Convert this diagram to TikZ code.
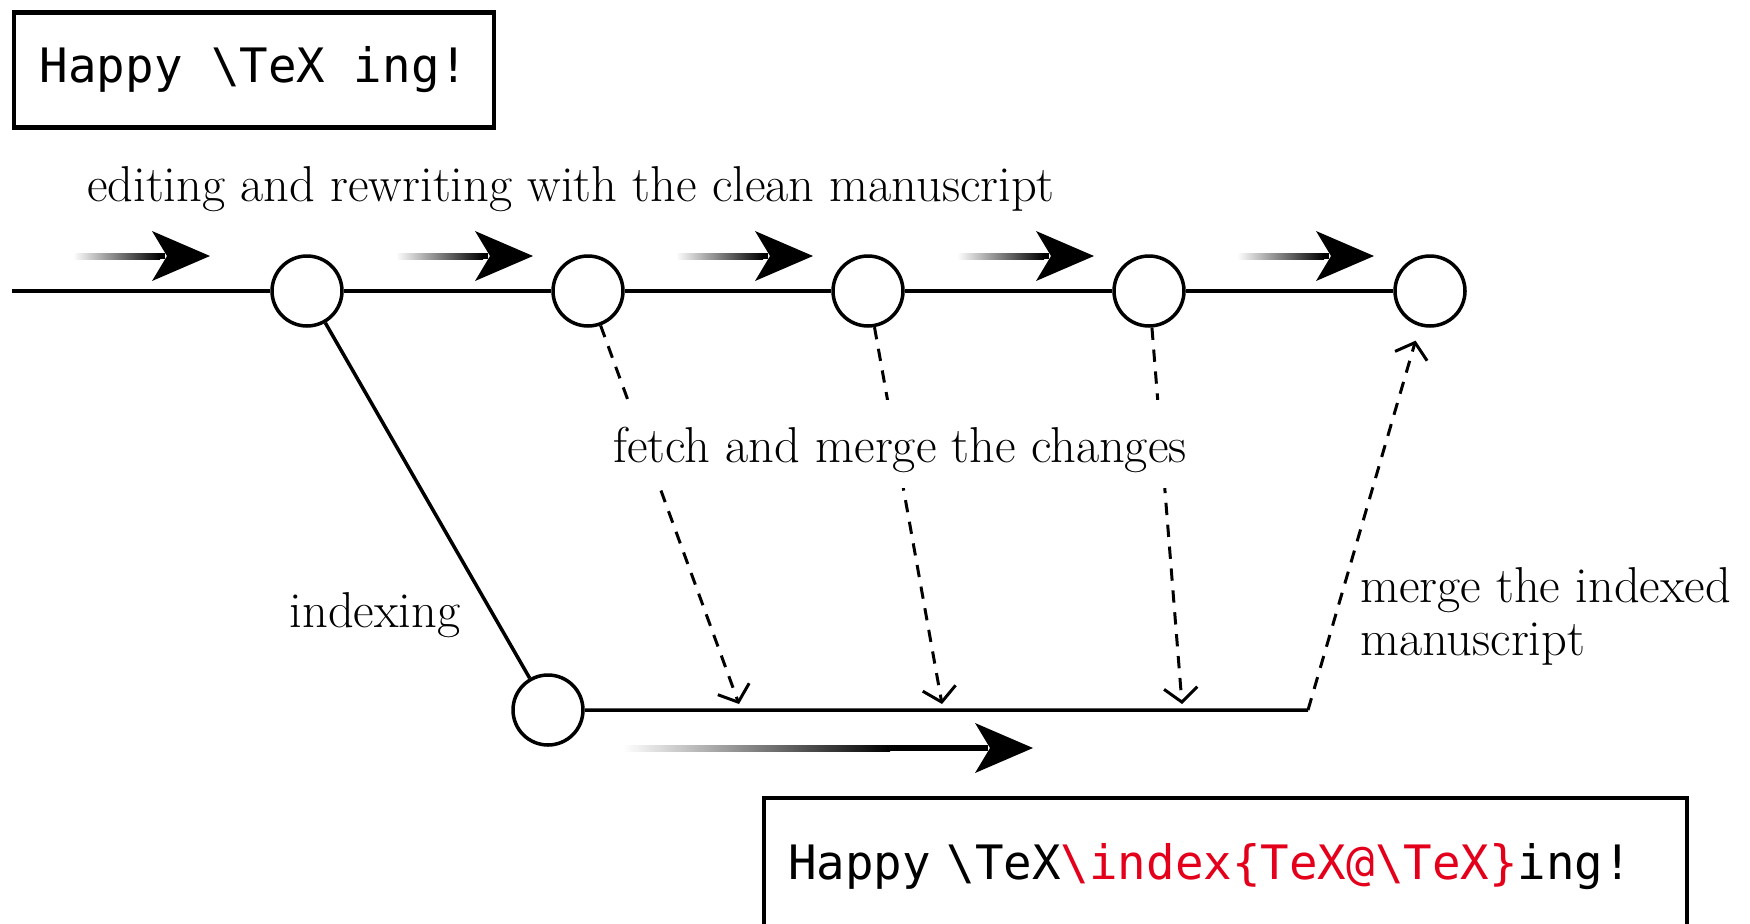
\documentclass[tikz,border=0pt]{standalone}
\usepackage{fontspec}
\setmonofont{DejaVu Sans Mono}
\usetikzlibrary{arrows.meta}
\definecolor{idxred}{RGB}{228,0,27}
\newcommand{\fadearrow}[4]{%
  \shade[left color=white,right color=black] (#1,#4-3) rectangle (#2,#4+3);
  \fill (#2,#4-3) rectangle (#3-45,#4+3);
  \fill (#3,#4) -- (#3-58,#4-25) -- (#3-43,#4) -- (#3-58,#4+25) -- cycle;}
\tikzset{
  commit/.style={circle, draw, line width=2pt, fill=white, minimum size=1.4cm, inner sep=0pt},
  branch/.style={line width=2pt},
  fetch/.style={line width=1.7pt, dash pattern=on 7pt off 5.5pt, -{Straight Barb[length=8pt,width=19pt]}},
  srcbox/.style={draw, line width=2.3pt, font=\ttfamily\fontsize{27}{32}\selectfont},
  lbl/.style={font=\fontsize{28.7}{30}\selectfont}
}
\begin{document}
\begin{tikzpicture}[x=0.02cm, y=-0.02cm]
\useasboundingbox (0,0) rectangle (1750,923);
\clip (0,0) rectangle (1750,923);
\node[srcbox, minimum width=9.6cm, minimum height=2.3cm] (plain) at (254,70) {Happy \textbackslash TeX ing!};
\node[lbl, anchor=base] (editlbl) at (571,201) {editing and rewriting with the clean manuscript};
\foreach \t in {210,533,813,1094,1374}
  \fadearrow{\t-137}{\t-50}{\t}{256};
\coordinate (start) at (12,291);
\foreach \i/\x in {1/307,2/588,3/868,4/1149,5/1430}
  \node[commit] (c\i) at (\x,291) {};
\node[commit] (idx) at (548,710) {};
\coordinate (corner) at (1308,710);
\draw[branch] (start) -- (c1) -- (c2) -- (c3) -- (c4) -- (c5);
\draw[branch] (c1) -- (idx) -- (corner);
\node[lbl, anchor=base] (idxlbl) at (375,627) {indexing};
\fadearrow{623}{890}{1033}{748}
\coordinate (m2) at (739,704);
\coordinate (m3) at (942,704);
\coordinate (m4) at (1182,704);
\draw[fetch] (c2) -- (m2);
\draw[fetch] (c3) -- (m3);
\draw[fetch] (c4) -- (m4);
\draw[fetch, shorten >=0.3cm] (corner) -- (c5);
\node[lbl, fill=white, anchor=base, inner ysep=0.2cm, text height=1.04cm, text depth=0.32cm] (fetchlbl) at (900,462) {fetch and merge the changes};
\node[lbl, anchor=base west, align=left] (mergelbl) at (1354,655) {merge the indexed\\manuscript};
\node[srcbox, anchor=north west, minimum height=2.74cm, text width=17.5cm, inner xsep=0.48cm, align=left] (indexed) at (762,796) {Happy \textbackslash TeX\textcolor{idxred}{\textbackslash index\{TeX@\textbackslash TeX\}}ing!};
\end{tikzpicture}
\end{document}
